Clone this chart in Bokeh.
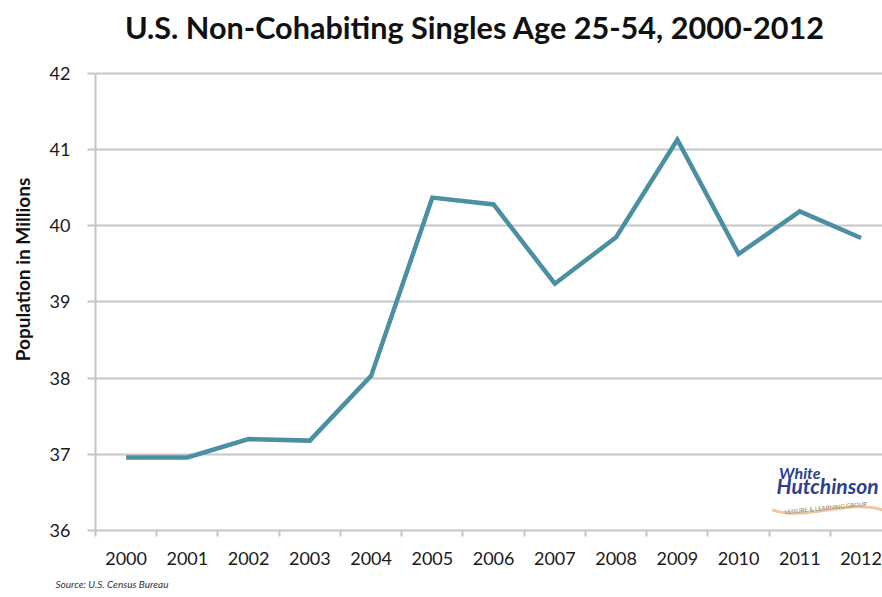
from bokeh.plotting import figure
from bokeh.models import Range1d, FixedTicker, Label, Title
from bokeh.embed import file_html
from bokeh.resources import INLINE

# ---- data ----
years = ["2000", "2001", "2002", "2003", "2004", "2005", "2006",
         "2007", "2008", "2009", "2010", "2011", "2012"]
population = [36.96, 36.96, 37.20, 37.18, 38.03, 40.37, 40.28,
              39.24, 39.85, 41.13, 39.63, 40.19, 39.84]
y_ticks = [36, 37, 38, 39, 40, 41, 42]

title_text = "U.S. Non-Cohabiting Singles Age 25-54, 2000-2012"
y_title = "Population in Millions"
source_text = "Source: U.S. Census Bureau"

FONT = "Lato"
AXIS_GRAY = "#c6c6c6"
LINE_COLOR = "#4a8fa2"

xs = list(range(len(years)))

# the frame reaches up to the top so that the title can sit inside it
p = figure(width=882, height=597, output_backend="svg", toolbar_location=None,
           x_range=Range1d(-0.5, 12.35), y_range=Range1d(36, 42.853),
           min_border_left=95, min_border_right=0, min_border_top=8,
           min_border_bottom=67)
p.title.visible = False
p.outline_line_color = None
p.background_fill_color = "white"
p.border_fill_color = "white"

p.line(xs, population, line_color=LINE_COLOR, line_width=4.5, line_join="miter")

# title
p.add_layout(Label(x=-0.02, y=42.60, text=title_text, text_font=FONT,
                   text_font_size="30.6px", text_font_style="bold",
                   text_color="#111111", text_baseline="middle",
                   text_align="left"))

# x axis
xa = p.xaxis[0]
xa.ticker = FixedTicker(ticks=xs, minor_ticks=[i - 0.5 for i in range(len(years) + 1)])
xa.major_label_overrides = {i: y for i, y in enumerate(years)}
xa.major_tick_out = 0
xa.major_tick_in = 0
xa.minor_tick_out = 6
xa.minor_tick_in = 0
xa.minor_tick_line_color = AXIS_GRAY
xa.minor_tick_line_width = 2
xa.axis_line_color = AXIS_GRAY
xa.axis_line_width = 2
xa.major_label_text_font = FONT
xa.major_label_text_font_size = "18px"
xa.major_label_text_color = "#1a1a1a"
xa.major_label_standoff = 15
p.xgrid.grid_line_color = None

# y axis
ya = p.yaxis[0]
ya.ticker = FixedTicker(ticks=y_ticks)
ya.bounds = (min(y_ticks), max(y_ticks))
ya.minor_tick_line_color = None
ya.major_tick_out = 8
ya.major_tick_in = 0
ya.major_tick_line_color = AXIS_GRAY
ya.major_tick_line_width = 2
ya.axis_line_color = AXIS_GRAY
ya.axis_line_width = 2
ya.major_label_text_font = FONT
ya.major_label_text_font_size = "18px"
ya.major_label_text_color = "#1a1a1a"
ya.major_label_standoff = 17
ya.axis_label = y_title
ya.axis_label_text_font = FONT
ya.axis_label_text_font_size = "19px"
ya.axis_label_text_font_style = "bold"
ya.axis_label_text_color = "#111111"
ya.axis_label_standoff = 13
p.ygrid.ticker = FixedTicker(ticks=y_ticks)
p.ygrid.grid_line_color = AXIS_GRAY
p.ygrid.grid_line_width = 2

# source note
src = Title(text=source_text, text_font=FONT, text_font_size="10px",
            text_font_style="italic", text_color="#333333", align="left",
            offset=-40, standoff=16)
p.add_layout(src, "below")

# logo (decorative)
p.bezier(x0=10.55, y0=36.27, x1=12.35, y1=36.27, cx0=11.1, cy0=36.12,
         cx1=11.8, cy1=36.42, line_color="#e8b98a", line_width=3, line_alpha=0.8)
p.add_layout(Label(x=10.66, y=36.64, text="White", text_font=FONT,
                   text_font_size="16px", text_font_style="bold italic",
                   text_color="#2e3f8f"))
p.add_layout(Label(x=10.62, y=36.43, text="Hutchinson", text_font=FONT,
                   text_font_size="21px", text_font_style="bold italic",
                   text_color="#2e3f8f"))
p.add_layout(Label(x=10.76, y=36.2, text="LEISURE & LEARNING GROUP", text_font=FONT,
                   text_font_size="6px", text_color="#8a7a6a", angle=0.1))

open("out.html", "w").write(file_html(p, INLINE))
